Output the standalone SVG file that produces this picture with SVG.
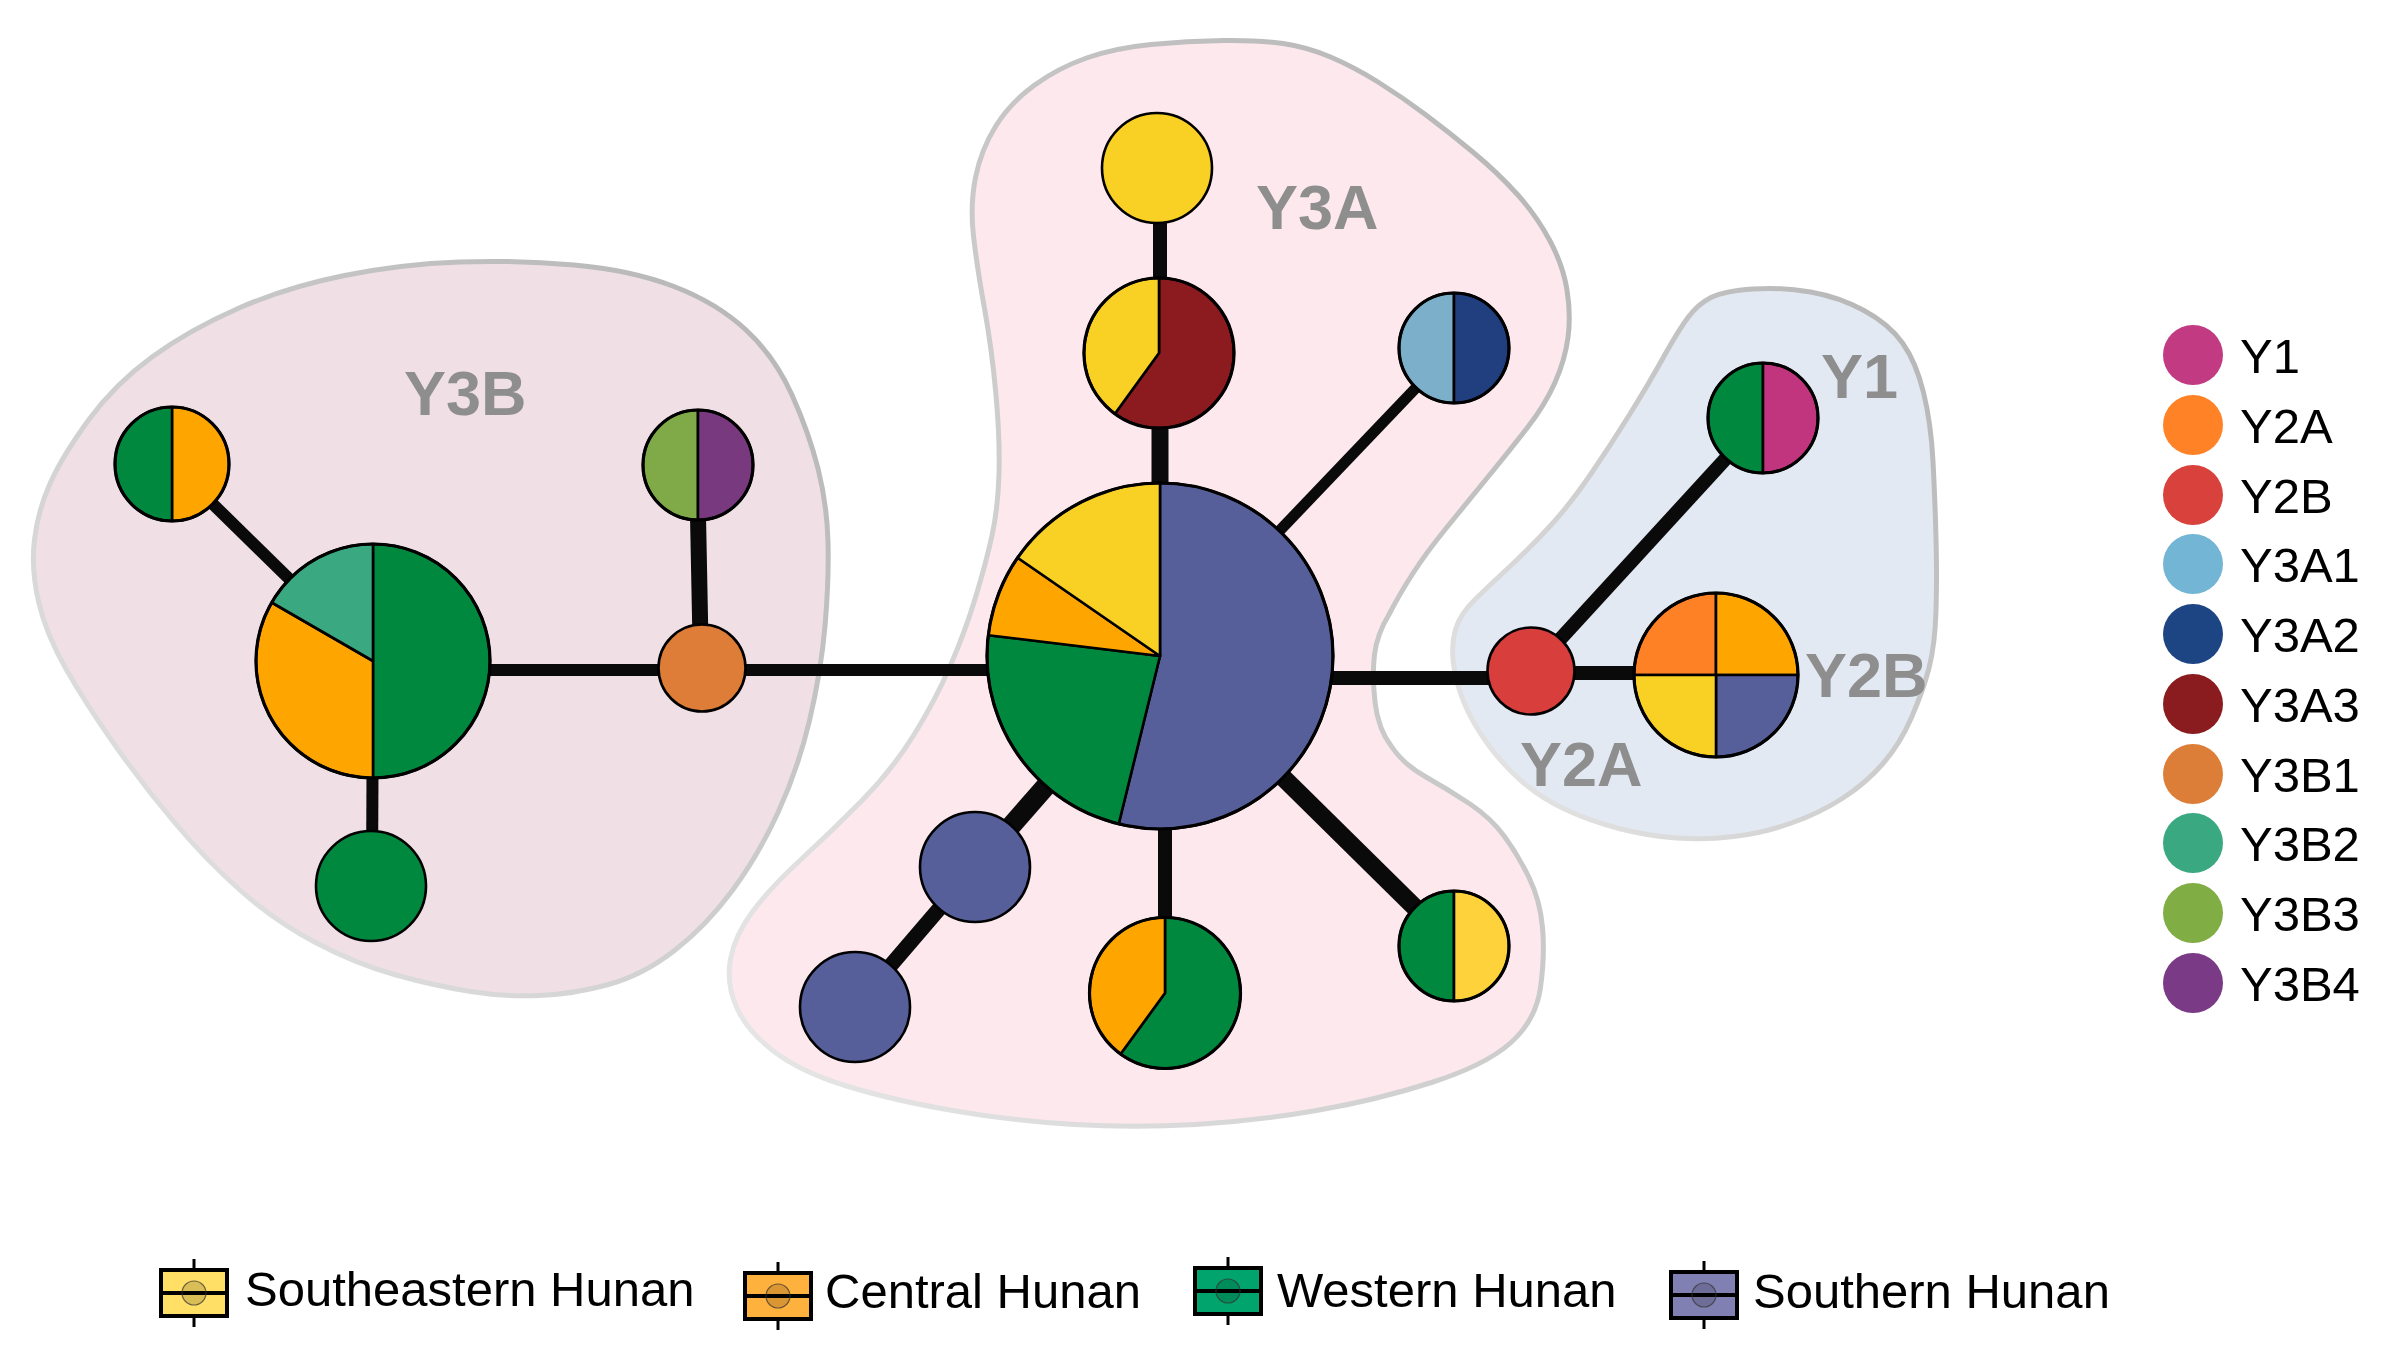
<svg xmlns="http://www.w3.org/2000/svg" width="2386" height="1356" viewBox="0 0 2386 1356">
<style>
.hull{stroke:url(#hs);stroke-width:5;stroke-linejoin:round}
.e{stroke:#0a0a0a;stroke-linecap:butt;fill:none}
.n path,.n circle{stroke:#000;stroke-width:2.6;stroke-linejoin:round}
.n .ring{fill:none;stroke:#000;stroke-width:3.2}
.W{fill:#00883f}.C{fill:#ffa500}.SE{fill:#f9d125}.S{fill:#565f99}
.lab{font-family:"Liberation Sans",Arial,sans-serif;font-weight:bold;font-size:63px;fill:#8e8e8e}
.lg{font-family:"Liberation Sans",Arial,sans-serif;font-size:49px;fill:#000}
.box rect{stroke:#000;stroke-width:4}
.box line{stroke:#000;stroke-width:3}
.box circle{fill:#000;fill-opacity:0.15;stroke:#333;stroke-width:1.2;stroke-opacity:0.7}
</style>
<defs>
<linearGradient id="hs" x1="0" y1="1" x2="1" y2="0">
<stop offset="0" stop-color="#e8e8e8"/>
<stop offset="0.45" stop-color="#cfcfcf"/>
<stop offset="1" stop-color="#b4b4b4"/>
</linearGradient>
<path id="h3b" d="M459.5,262 Q517,260 574,265 Q631,270 674,286.5 Q717,303 746,330 Q775,357 792,395 Q809,433 818,468.5 Q827,504 828,542 Q829,580 825,626 Q821,672 809.5,720.5 Q798,769 778,812.5 Q758,856 732,891 Q706,926 674.5,950.5 Q643,975 608.5,984.5 Q574,994 539.5,995.5 Q505,997 470.5,991.5 Q436,986 396,975 Q356,964 315.5,942.5 Q275,921 241,891 Q207,861 175,823 Q143,785 114.5,744.5 Q86,704 66,669 Q46,634 38.5,601.5 Q31,569 34.5,539.5 Q38,510 50.5,482.5 Q63,455 89,419.5 Q115,384 152,357 Q189,330 238,308.5 Q287,287 344.5,275.5 Q402,264 459.5,262 Z"/>
<path id="h3a" d="M1151,44.5 Q1187,41 1223,40.5 Q1259,40 1283,43.5 Q1307,47 1330.5,57 Q1354,67 1378,82 Q1402,97 1426,115 Q1450,133 1474,153 Q1498,173 1517,194 Q1536,215 1549.5,240 Q1563,265 1567,290 Q1571,315 1568,337.5 Q1565,360 1555,382.5 Q1545,405 1527.5,427.5 Q1510,450 1487.5,477.5 Q1465,505 1445.5,529 Q1426,553 1412.5,574 Q1399,595 1389,614.5 Q1377,634 1374.5,654.5 Q1372,675 1375,702 Q1378,729 1391.5,746.5 Q1403,764 1426,777 Q1449,790 1470,804 Q1491,818 1504.5,836.5 Q1518,855 1529,877.5 Q1540,900 1542.5,927.5 Q1545,955 1540.5,987.5 Q1536,1020 1511,1042.5 Q1486,1065 1431.5,1082.5 Q1377,1100 1316.5,1110.5 Q1256,1121 1195.5,1124.5 Q1135,1128 1074,1124.5 Q1013,1121 952.5,1110.5 Q892,1100 846.5,1086 Q801,1072 774,1051.5 Q747,1031 736.5,1007 Q726,983 730.5,959 Q735,935 753,911 Q771,887 801.5,859 Q832,831 862,800.5 Q892,770 913.5,735.5 Q935,701 950,666.5 Q965,632 975.5,597.5 Q986,563 992,535.5 Q998,508 999,474 Q1000,440 996,395 Q992,350 984.5,308.5 Q977,267 973.5,236 Q970,205 975.5,177.5 Q981,150 995.5,126.5 Q1010,103 1034,85.5 Q1058,68 1086.5,58 Q1115,48 1151,44.5 Z"/>
<path id="h2" d="M1711,297.5 Q1724,291 1753,289 Q1782,287 1810.5,292 Q1839,297 1864,310.5 Q1889,324 1902.5,343 Q1916,362 1923.5,392.5 Q1931,423 1933,461.5 Q1935,500 1936,538 Q1937,576 1936,610.5 Q1935,645 1929,668 Q1923,691 1911.5,717.5 Q1900,744 1883,763.5 Q1866,783 1843,798 Q1820,813 1791.5,823 Q1763,833 1734,836.5 Q1705,840 1676.5,838 Q1648,836 1619,828.5 Q1590,821 1565.5,809.5 Q1541,798 1521.5,781 Q1502,764 1487,743 Q1472,722 1464,702.5 Q1456,683 1453.5,664 Q1451,645 1455.5,629.5 Q1460,614 1475.5,599 Q1491,584 1512,564.5 Q1533,545 1552,524 Q1571,503 1590.5,474.5 Q1610,446 1629,415.5 Q1648,385 1663,358 Q1678,331 1688,317.5 Q1698,304 1711,297.5 Z"/>
</defs>
<rect width="2386" height="1356" fill="#ffffff"/>
<g id="hulls">
<use href="#h3b" class="hull" fill="#f0e0e5"/>
<use href="#h3a" class="hull" fill="#fde8ee"/>
<use href="#h2" class="hull" fill="#e3e9f3"/>
</g>
<g id="connectors">
<line class="e" x1="373" y1="661" x2="172" y2="464" stroke-width="12"/>
<line class="e" x1="373" y1="661" x2="372" y2="886" stroke-width="12"/>
<line class="e" x1="373" y1="670" x2="702" y2="670" stroke-width="12"/>
<line class="e" x1="701" y1="668" x2="697" y2="465" stroke-width="16"/>
<line class="e" x1="702" y1="670" x2="1160" y2="670" stroke-width="12"/>
<line class="e" x1="1160" y1="353" x2="1160" y2="168" stroke-width="14"/>
<line class="e" x1="1160" y1="656" x2="1160" y2="353" stroke-width="17"/>
<line class="e" x1="1160" y1="656" x2="1454" y2="348" stroke-width="11"/>
<line class="e" x1="1160" y1="678" x2="1531" y2="678" stroke-width="14"/>
<line class="e" x1="1165" y1="656" x2="1165" y2="993" stroke-width="14"/>
<line class="e" x1="1160" y1="656" x2="1454" y2="946" stroke-width="18"/>
<line class="e" x1="1160" y1="656" x2="975" y2="867" stroke-width="20"/>
<line class="e" x1="975" y1="867" x2="855" y2="1007" stroke-width="15"/>
<line class="e" x1="1531" y1="671" x2="1763" y2="418" stroke-width="14"/>
<line class="e" x1="1531" y1="673" x2="1716" y2="673" stroke-width="14"/>
</g>
<g id="n-y3b-main" class="n">
<path class="W" d="M373,661 L373,544 A117,117 0 0 1 373,778 Z"/>
<path class="C" d="M373,661 L373,778 A117,117 0 0 1 271.7,602.5 Z"/>
<path fill="#3aa981" d="M373,661 L271.7,602.5 A117,117 0 0 1 373,544 Z"/>
<circle class="ring" cx="373" cy="661" r="117"/>
</g>
<g id="n-y3b-topleft" class="n">
<path class="C" d="M172,407 A57,57 0 0 1 172,521 Z"/>
<path class="W" d="M172,521 A57,57 0 0 1 172,407 Z"/>
<circle class="ring" cx="172" cy="464" r="57"/>
</g>
<g id="n-y3b-bottom" class="n">
<circle class="W" cx="371" cy="886" r="55"/>
</g>
<g id="n-y3b34" class="n">
<path fill="#80aa48" d="M698,520 A55,55 0 0 1 698,410 Z"/>
<path fill="#79397f" d="M698,410 A55,55 0 0 1 698,520 Z"/>
<circle class="ring" cx="698" cy="465" r="55"/>
</g>
<g id="n-y3b1" class="n">
<circle fill="#dd7d38" cx="702" cy="668" r="43.5"/>
</g>
<g id="n-central" class="n">
<path class="S" d="M1160,656 L1160,483 A173,173 0 1 1 1118.7,824 Z"/>
<path class="W" d="M1160,656 L1118.7,824 A173,173 0 0 1 988.3,635.2 Z"/>
<path class="C" d="M1160,656 L988.3,635.2 A173,173 0 0 1 1017.6,557.8 Z"/>
<path class="SE" d="M1160,656 L1017.6,557.8 A173,173 0 0 1 1160,483 Z"/>
<circle class="ring" cx="1160" cy="656" r="173"/>
</g>
<g id="n-y3a3" class="n">
<path fill="#8b1b1f" d="M1159,353 L1159,278 A75,75 0 1 1 1114.9,413.7 Z"/>
<path class="SE" d="M1159,353 L1114.9,413.7 A75,75 0 0 1 1159,278 Z"/>
<circle class="ring" cx="1159" cy="353" r="75"/>
</g>
<g id="n-top" class="n">
<circle class="SE" cx="1157" cy="168" r="55"/>
</g>
<g id="n-y3a12" class="n">
<path fill="#7bafca" d="M1454,403 A55,55 0 0 1 1454,293 Z"/>
<path fill="#213f7e" d="M1454,293 A55,55 0 0 1 1454,403 Z"/>
<circle class="ring" cx="1454" cy="348" r="55"/>
</g>
<g id="n-br" class="n">
<path class="W" d="M1454,1001 A55,55 0 0 1 1454,891 Z"/>
<path fill="#fdd23a" d="M1454,891 A55,55 0 0 1 1454,1001 Z"/>
<circle class="ring" cx="1454" cy="946" r="55"/>
</g>
<g id="n-bottom" class="n">
<path class="W" d="M1165,993 L1165,917.5 A75.5,75.5 0 1 1 1120.6,1054.1 Z"/>
<path class="C" d="M1165,993 L1120.6,1054.1 A75.5,75.5 0 0 1 1165,917.5 Z"/>
<circle class="ring" cx="1165" cy="993" r="75.5"/>
</g>
<g id="n-s1" class="n">
<circle class="S" cx="975" cy="867" r="55"/>
</g>
<g id="n-s2" class="n">
<circle class="S" cx="855" cy="1007" r="55"/>
</g>
<g id="n-y2a" class="n">
<circle fill="#d83f3c" cx="1531" cy="671" r="43.5"/>
</g>
<g id="n-y2b" class="n">
<path fill="#ff8126" d="M1716,675 L1634,675 A82,82 0 0 1 1716,593 Z"/>
<path class="C" d="M1716,675 L1716,593 A82,82 0 0 1 1798,675 Z"/>
<path class="S" d="M1716,675 L1798,675 A82,82 0 0 1 1716,757 Z"/>
<path class="SE" d="M1716,675 L1716,757 A82,82 0 0 1 1634,675 Z"/>
<circle class="ring" cx="1716" cy="675" r="82"/>
</g>
<g id="n-y1" class="n">
<path class="W" d="M1763,473 A55,55 0 0 1 1763,363 Z"/>
<path fill="#c1357f" d="M1763,363 A55,55 0 0 1 1763,473 Z"/>
<circle class="ring" cx="1763" cy="418" r="55"/>
</g>
<g id="group-labels">
<text class="lab" x="404" y="415">Y3B</text>
<text class="lab" x="1256" y="229">Y3A</text>
<text class="lab" x="1821" y="398">Y1</text>
<text class="lab" x="1805" y="697">Y2B</text>
<text class="lab" x="1520" y="786">Y2A</text>
</g>
<g id="legend-haplogroups">
<circle cx="2193" cy="355" r="30" fill="#c13a82"/>
<circle cx="2193" cy="425" r="30" fill="#ff8227"/>
<circle cx="2193" cy="495" r="30" fill="#d9413d"/>
<circle cx="2193" cy="564" r="30" fill="#72b5d5"/>
<circle cx="2193" cy="634" r="30" fill="#1d4483"/>
<circle cx="2193" cy="704" r="30" fill="#8a1b1f"/>
<circle cx="2193" cy="774" r="30" fill="#dd7e38"/>
<circle cx="2193" cy="843" r="30" fill="#3aa982"/>
<circle cx="2193" cy="913" r="30" fill="#80ae44"/>
<circle cx="2193" cy="983" r="30" fill="#7a3a86"/>
<text class="lg" x="2240" y="373">Y1</text>
<text class="lg" x="2240" y="443">Y2A</text>
<text class="lg" x="2240" y="513">Y2B</text>
<text class="lg" x="2240" y="582">Y3A1</text>
<text class="lg" x="2240" y="652">Y3A2</text>
<text class="lg" x="2240" y="722">Y3A3</text>
<text class="lg" x="2240" y="792">Y3B1</text>
<text class="lg" x="2240" y="861">Y3B2</text>
<text class="lg" x="2240" y="931">Y3B3</text>
<text class="lg" x="2240" y="1001">Y3B4</text>
</g>
<g id="legend-regions">
<g class="box" transform="translate(161,1270)">
<line x1="33" y1="-11" x2="33" y2="57"/>
<rect x="0" y="0" width="66" height="46" fill="#ffdf66"/>
<line x1="0" y1="23" x2="66" y2="23" style="stroke-width:4"/>
<circle cx="33" cy="23" r="12"/>
</g>
<text class="lg" x="245" y="1306">Southeastern Hunan</text>
<g class="box" transform="translate(745,1273)">
<line x1="33" y1="-11" x2="33" y2="57"/>
<rect x="0" y="0" width="66" height="46" fill="#ffb13d"/>
<line x1="0" y1="23" x2="66" y2="23" style="stroke-width:4"/>
<circle cx="33" cy="23" r="12"/>
</g>
<text class="lg" x="825" y="1308">Central Hunan</text>
<g class="box" transform="translate(1195,1268)">
<line x1="33" y1="-11" x2="33" y2="57"/>
<rect x="0" y="0" width="66" height="46" fill="#00a46c"/>
<line x1="0" y1="23" x2="66" y2="23" style="stroke-width:4"/>
<circle cx="33" cy="23" r="12"/>
</g>
<text class="lg" x="1277" y="1307">Western Hunan</text>
<g class="box" transform="translate(1671,1272)">
<line x1="33" y1="-11" x2="33" y2="57"/>
<rect x="0" y="0" width="66" height="46" fill="#8080b2"/>
<line x1="0" y1="23" x2="66" y2="23" style="stroke-width:4"/>
<circle cx="33" cy="23" r="12"/>
</g>
<text class="lg" x="1753" y="1308">Southern Hunan</text>
</g>
</svg>
